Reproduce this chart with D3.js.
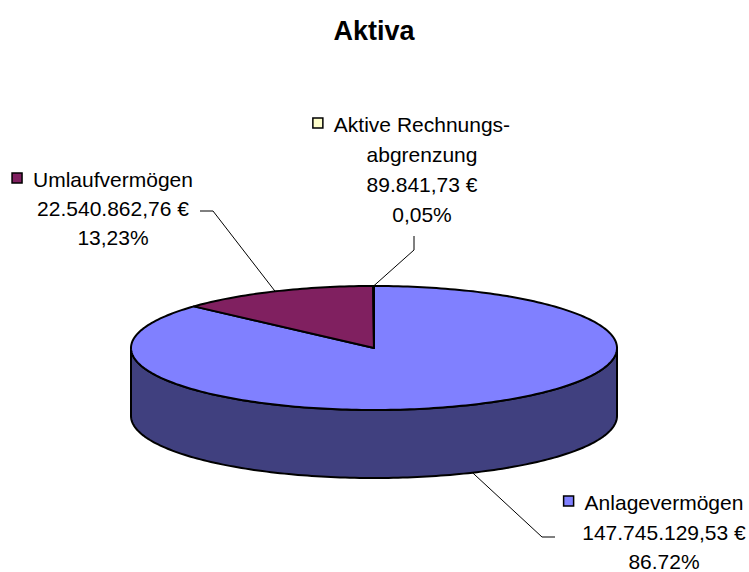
<!DOCTYPE html>
<html>
<head>
<meta charset="utf-8">
<script src="https://cdnjs.cloudflare.com/ajax/libs/d3/7.8.5/d3.min.js"></script>
<style>
  body { margin: 0; background: #fff; }
  text { font-family: "Liberation Sans", Arial, sans-serif; fill: #000; }
</style>
</head>
<body>
<div id="chart"></div>
<script>
// data
var names = ["Anlagevermögen", "Umlaufvermögen", "Aktive Rechnungsabgrenzung"];
var nameLines = [["Anlagevermögen"], ["Umlaufvermögen"], ["Aktive Rechnungs-", "abgrenzung"]];
var values = [147745129.53, 22540862.76, 89841.73];
var valueTexts = ["147.745.129,53 €", "22.540.862,76 €", "89.841,73 €"];
var percentTexts = ["86.72%", "13,23%", "0,05%"];
var topColors = ["#8080ff", "#802060", "#ffffcc"];
var sideColors = ["#40407f", "#401030", "#7f7f66"];

var W = 749, H = 572;
var cx = 374, cy = 348, rx = 243, ry = 62, depth = 68;

// label layout: text center x, first baseline y, line step, elbow of the leader
var labelPos = [
  { x: 664, y: 510, step: 29.5, lx: 555, ly: 537, ex: 542, ey: 537 },
  { x: 113, y: 187, step: 29, lx: 200, ly: 211, ex: 213, ey: 211 },
  { x: 422, y: 132, step: 30, lx: 414, ly: 236, ex: 414, ey: 250 }
];

var svg = d3.select('#chart').append('svg')
  .attr('width', W)
  .attr('height', H);

svg.append('text')
  .attr('x', cx)
  .attr('y', 40)
  .attr('text-anchor', 'middle')
  .style('font-weight', 'bold')
  .style('font-size', '27px')
  .text('Aktiva');

var pie = d3.pie().sort(null).startAngle(0).endAngle(2 * Math.PI);
var arcs = pie(values);

var pt = function (a, dy) {
  return [cx + rx * Math.sin(a), cy - ry * Math.cos(a) + (dy || 0)];
};

var rimPoints = function (a0, a1, dy) {
  var n = Math.max(2, Math.ceil((a1 - a0) / 0.02));
  return d3.range(n + 1).map(function (i) { return pt(a0 + (a1 - a0) * i / n, dy); });
};

var line = d3.line();

// side walls (only the front half, pi/2 .. 3pi/2)
arcs.forEach(function (d, i) {
  var a0 = Math.max(d.startAngle, Math.PI / 2);
  var a1 = Math.min(d.endAngle, 3 * Math.PI / 2);
  if (a1 <= a0) return;
  var top = rimPoints(a0, a1, 0);
  var bottom = rimPoints(a0, a1, depth).reverse();
  svg.append('path')
    .attr('d', line(top.concat(bottom)) + 'Z')
    .attr('fill', sideColors[i])
    .attr('stroke', '#000')
    .attr('stroke-width', 2)
    .attr('stroke-linejoin', 'round');
});

// top faces
arcs.forEach(function (d, i) {
  var pts = [[cx, cy]].concat(rimPoints(d.startAngle, d.endAngle, 0));
  svg.append('path')
    .attr('d', line(pts) + 'Z')
    .attr('fill', topColors[i])
    .attr('stroke', '#000')
    .attr('stroke-width', 2)
    .attr('stroke-linejoin', 'round');
});

// labels and leaders
arcs.forEach(function (d, i) {
  var p = labelPos[i];
  var mid = (d.startAngle + d.endAngle) / 2;
  var front = Math.cos(mid) < 0;
  var end = pt(mid, front ? depth : 0);

  svg.append('path')
    .attr('d', line([[p.lx, p.ly], [p.ex, p.ey], end]))
    .attr('fill', 'none')
    .attr('stroke', '#000')
    .attr('stroke-width', 1);

  var lines = nameLines[i].concat([valueTexts[i], percentTexts[i]]);
  var g = svg.append('g');
  lines.forEach(function (t, k) {
    g.append('text')
      .attr('x', p.x)
      .attr('y', p.y + k * p.step)
      .attr('text-anchor', 'middle')
      .style('font-size', '21px')
      .text(t);
  });
  // legend key left of the first line
  var first = g.select('text').node();
  var w = first.getComputedTextLength();
  svg.append('rect')
    .attr('x', p.x - w / 2 - 21)
    .attr('y', p.y - 14)
    .attr('width', 10)
    .attr('height', 10)
    .attr('fill', topColors[i])
    .attr('stroke', '#000')
    .attr('stroke-width', 1.5);
});
</script>
</body>
</html>
